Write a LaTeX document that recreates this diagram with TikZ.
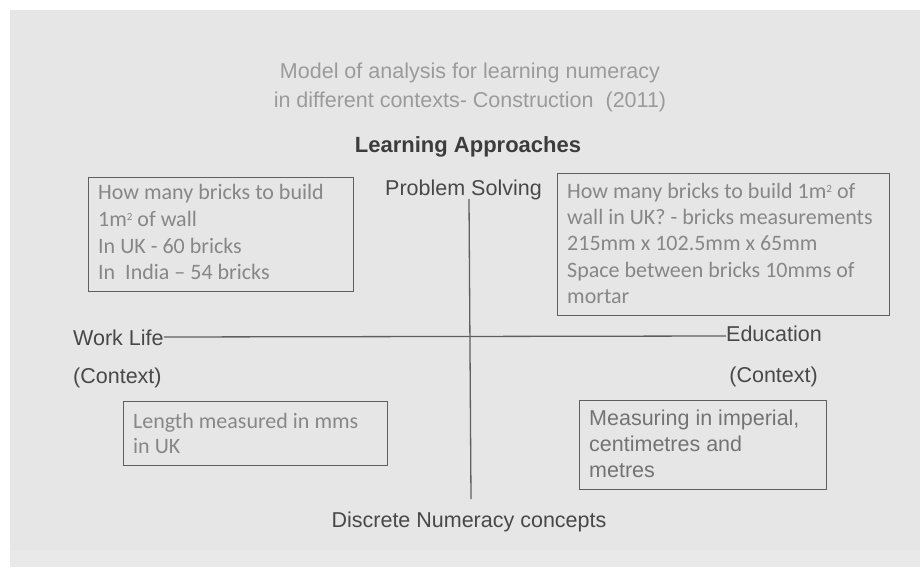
\documentclass[tikz,border=0pt]{standalone}
\usepackage{fontspec}
\setmainfont{Liberation Sans}
\newfontfamily\calib{Carlito}
\definecolor{bgc}{RGB}{230,230,230}
\definecolor{bgl}{RGB}{233,233,233}
\definecolor{titlec}{RGB}{155,155,155}
\definecolor{labc}{RGB}{72,72,72}
\definecolor{headc}{RGB}{60,60,60}
\definecolor{btc}{RGB}{135,135,135}
\definecolor{btc2}{RGB}{115,115,115}
\definecolor{linec}{RGB}{95,95,95}
\begin{document}
\begin{tikzpicture}[x=1pt,y=-1pt,
  txt/.style={inner sep=0pt,anchor=base west},
  ctxt/.style={inner sep=0pt,anchor=base},
  titlest/.style={ctxt,text=titlec,font=\fontsize{21.5}{26}\selectfont},
  labst/.style={txt,text=labc,font=\fontsize{21.5}{26}\selectfont},
  headst/.style={ctxt,text=headc,font=\bfseries\fontsize{22}{26}\selectfont},
  boxst/.style={draw=linec,line width=1.4pt,rectangle,inner sep=0pt,anchor=north west},
  ctext/.style={txt,text=btc,font=\calib\fontsize{22}{26}\selectfont},
  atext/.style={txt,text=btc2,font=\fontsize{21.5}{26}\selectfont},
  axis/.style={draw=linec,line width=1.3pt}]
\useasboundingbox (0,0) rectangle (920,567);
\fill[white] (0,0) rectangle (920,567);
\fill[bgc] (10,10) rectangle (920,567);
\fill[bgl] (10,550) rectangle (920,567);

% titles
\node[titlest] (t1) at (470,79) {Model of analysis for learning numeracy};
\node[titlest] (t2) at (470,107) {in different contexts- Construction\ \ (2011)};
\node[headst] (la) at (468,152) {Learning Approaches};

% axis labels
\node[labst] (ps) at (385,195) {Problem Solving};
\node[ctxt,text=labc,font=\fontsize{21.5}{26}\selectfont] (dn) at (469,527) {Discrete Numeracy concepts};
\node[labst] (wl) at (73,345) {Work Life};
\node[labst] (wc) at (73,383) {(Context)};
\node[labst,anchor=base east] (ed) at (822,341) {Education};
\node[labst,anchor=base east] (ec) at (818,382) {(Context)};

% axes
\coordinate (vt) at (469,199);
\coordinate (vb) at (471,499);
\draw[axis] (vt) -- (vb);
\draw[axis] (wl.east |- 0,337) -- (ed.west |- 0,336);

% box 1
\node[boxst,minimum width=265,minimum height=114] (b1) at (88,177) {};
\node[ctext] (b1a) at (98,199) {How many bricks to build};
\node[ctext] (b1b) at (98,226) {1m\raisebox{0.5ex}{\fontsize{11}{12}\selectfont 2} of wall};
\node[ctext] (b1c) at (98,253) {In UK - 60 bricks};
\node[ctext] (b1d) at (98,279) {In\ \ India – 54 bricks};

% box 2
\node[boxst,minimum width=332,minimum height=142] (b2) at (557,173) {};
\node[ctext] (b2a) at (567,198) {How many bricks to build 1m\raisebox{0.5ex}{\fontsize{11}{12}\selectfont 2} of};
\node[ctext] (b2b) at (567,224) {wall in UK? - bricks measurements};
\node[ctext] (b2c) at (567,250) {215mm x 102.5mm x 65mm};
\node[ctext] (b2d) at (567,277) {Space between bricks 10mms of};
\node[ctext] (b2e) at (567,303) {mortar};

% box 3
\node[boxst,minimum width=264,minimum height=64] (b3) at (123,401) {};
\node[ctext] (b3a) at (133,428) {Length measured in mms};
\node[ctext] (b3b) at (133,453) {in UK};

% box 4
\node[boxst,minimum width=247,minimum height=89] (b4) at (579,400) {};
\node[atext] (b4a) at (589,425) {Measuring in imperial,};
\node[atext] (b4b) at (589,451) {centimetres and};
\node[atext] (b4c) at (589,477) {metres};
\end{tikzpicture}
\end{document}
